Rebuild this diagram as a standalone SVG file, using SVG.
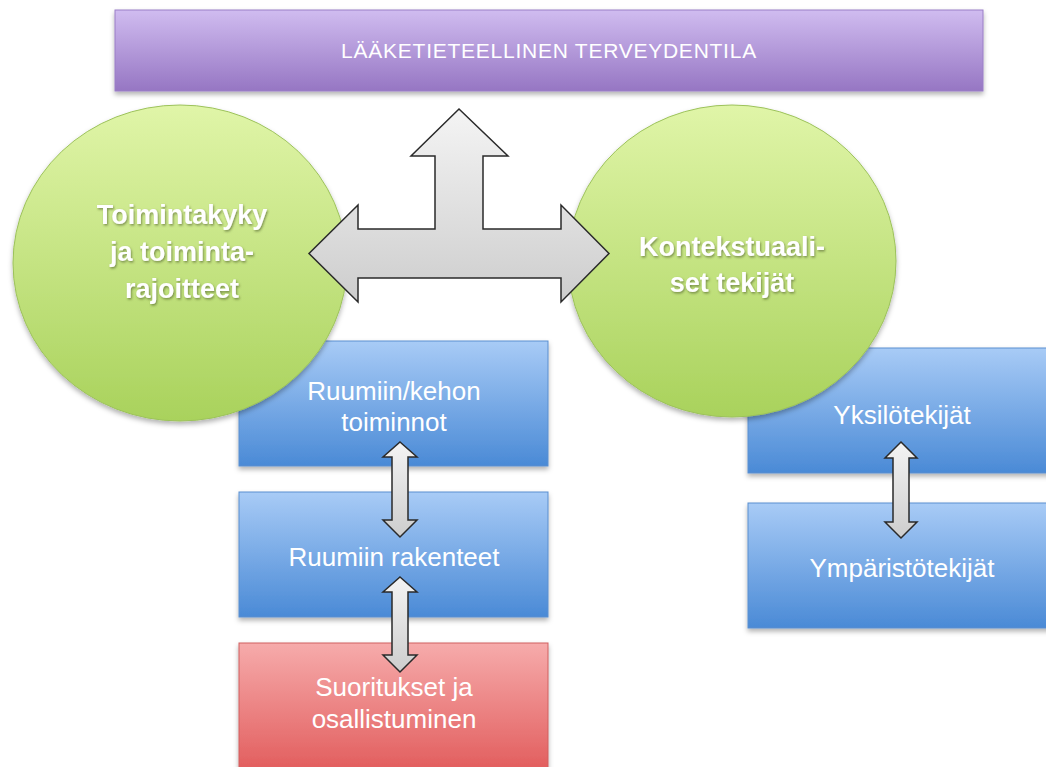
<svg xmlns="http://www.w3.org/2000/svg" width="1046" height="767" viewBox="0 0 1046 767">
<defs>
<linearGradient id="gPurple" x1="0" y1="0" x2="0" y2="1"><stop offset="0" stop-color="#d0bcf0"/><stop offset="1" stop-color="#9676c3"/></linearGradient>
<linearGradient id="gBlue" x1="0" y1="0" x2="0" y2="1"><stop offset="0" stop-color="#a8cbf6"/><stop offset="1" stop-color="#4a8ad6"/></linearGradient>
<linearGradient id="gRed" x1="0" y1="0" x2="0" y2="1"><stop offset="0" stop-color="#f6abab"/><stop offset="1" stop-color="#e05656"/></linearGradient>
<linearGradient id="gGreen" x1="0" y1="0" x2="0" y2="1"><stop offset="0" stop-color="#e0f5a8"/><stop offset="1" stop-color="#a9d25c"/></linearGradient>
<linearGradient id="gGray" x1="0" y1="0" x2="0" y2="1"><stop offset="0" stop-color="#f4f4f4"/><stop offset="1" stop-color="#cdcdcd"/></linearGradient>
<filter id="shadow" x="-10%" y="-10%" width="120%" height="130%"><feDropShadow dx="0" dy="3" stdDeviation="2.5" flood-color="#000" flood-opacity="0.3"/></filter>
<filter id="tshadow" x="-10%" y="-30%" width="120%" height="160%"><feDropShadow dx="1" dy="1.5" stdDeviation="1" flood-color="#3a4a20" flood-opacity="0.55"/></filter>
</defs>
<style>
.box{stroke-width:1}
.blue{fill:url(#gBlue);stroke:#5a8fcf}
.red{fill:url(#gRed);stroke:#d06060}
.circ{fill:url(#gGreen);stroke:#9cc25a;stroke-width:1}
.arrow{fill:url(#gGray);stroke:#2a2a2a;stroke-width:1.5;stroke-linejoin:miter}
.t{font-family:"Liberation Sans",Arial,sans-serif;fill:#ffffff;text-anchor:middle}
.bt{font-size:26px}
.ct{font-size:27px;font-weight:bold}
.top{font-size:21px;letter-spacing:0.75px}
</style>
<rect width="1046" height="767" fill="#ffffff"/>

<g id="terveydentila">
<rect x="115" y="10" width="868" height="81" fill="url(#gPurple)" stroke="#9a7fc6" stroke-width="1" filter="url(#shadow)"/>
<text class="t top" x="549" y="58">LÄÄKETIETEELLINEN TERVEYDENTILA</text>
</g>

<g id="ruumiin-kehon-toiminnot">
<rect class="box blue" x="239" y="341" width="309" height="125" filter="url(#shadow)"/>
<text class="t bt" x="394" y="400">Ruumiin/kehon</text>
<text class="t bt" x="394" y="431">toiminnot</text>
</g>

<g id="ruumiin-rakenteet">
<rect class="box blue" x="239" y="492" width="309" height="125" filter="url(#shadow)"/>
<text class="t bt" x="394" y="566">Ruumiin rakenteet</text>
</g>

<g id="suoritukset">
<rect class="box red" x="239" y="643" width="309" height="140" filter="url(#shadow)"/>
<text class="t bt" x="394" y="696">Suoritukset ja</text>
<text class="t bt" x="394" y="728">osallistuminen</text>
</g>

<g id="yksilotekijat">
<rect class="box blue" x="748" y="348" width="309" height="125" filter="url(#shadow)"/>
<text class="t bt" x="902" y="424">Yksilötekijät</text>
</g>

<g id="ymparistotekijat">
<rect class="box blue" x="748" y="503" width="309" height="125" filter="url(#shadow)"/>
<text class="t bt" x="902" y="577">Ympäristötekijät</text>
</g>

<g id="toimintakyky">
<ellipse class="circ" cx="180" cy="263" rx="167" ry="158" filter="url(#shadow)"/>
<g filter="url(#tshadow)">
<text class="t ct" x="182" y="224">Toimintakyky</text>
<text class="t ct" x="182" y="261">ja toiminta-</text>
<text class="t ct" x="182" y="298">rajoitteet</text>
</g>
</g>

<g id="kontekstuaaliset">
<ellipse class="circ" cx="732" cy="261" rx="164" ry="156" filter="url(#shadow)"/>
<g filter="url(#tshadow)">
<text class="t ct" x="732" y="256">Kontekstuaali-</text>
<text class="t ct" x="732" y="292">set tekijät</text>
</g>
</g>

<g id="connectors">
<path class="arrow" d="M459,109 L508,156 L483,156 L483,229 L561,229 L561,205 L609,253.5 L561,302 L561,278 L358,278 L358,302 L309,253.5 L358,205 L358,229 L435,229 L435,156 L411,156 Z"/>
<path class="arrow" d="M400,442 L417,457 L408,457 L408,520 L417,520 L400,537 L383,520 L392,520 L392,457 L383,457 Z"/>
<path class="arrow" d="M400,577 L417,592 L408,592 L408,655 L417,655 L400,672 L383,655 L392,655 L392,592 L383,592 Z"/>
<path class="arrow" d="M901,442 L917,458 L909,458 L909,522 L917,522 L901,538 L885,522 L893,522 L893,458 L885,458 Z"/>
</g>
</svg>
